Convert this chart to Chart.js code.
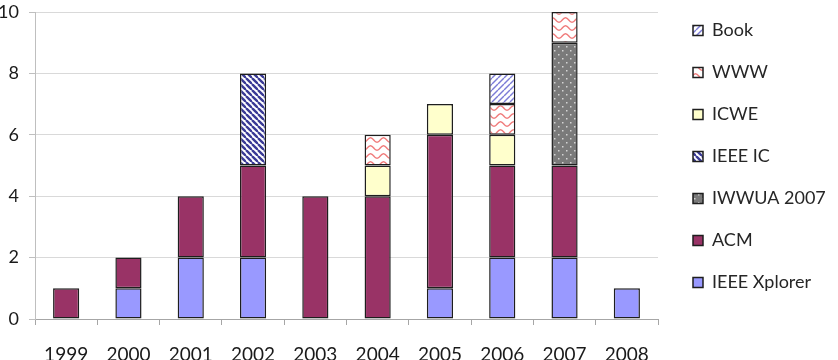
<!DOCTYPE html>
<html><head><meta charset="utf-8">
<script src="https://cdn.jsdelivr.net/npm/chart.js@4/dist/chart.umd.min.js"></script>
<style>html,body{margin:0;padding:0;background:#fff}#wrap{width:838px;height:360px;position:relative}</style>
</head><body><div id="wrap"><canvas id="c" width="838" height="360"></canvas></div>
<script>
// ---- data ----
const years = ['1999','2000','2001','2002','2003','2004','2005','2006','2007','2008'];
const ieeeXplorer = [null,1,2,2,null,null,1,2,2,1];
const acm         = [1,1,2,3,4,4,5,3,3,null];
const iwwua2007   = [null,null,null,null,null,null,null,null,4,null];
const ieeeIC      = [null,null,null,3,null,null,null,null,null,null];
const icwe        = [null,null,null,null,null,1,1,1,null,null];
const www         = [null,null,null,null,null,1,null,1,1,null];
const book        = [null,null,null,null,null,null,null,1,null,null];
const yTicks = [0,2,4,6,8,10];

// ---- patterns ----
function tile(w,h,draw){const c=document.createElement('canvas');c.width=w;c.height=h;const g=c.getContext('2d');draw(g,w,h);return document.getElementById('c').getContext('2d').createPattern(c,'repeat');}
const patIC = tile(6,6,(g,w,h)=>{g.fillStyle='#fff';g.fillRect(0,0,w,h);g.strokeStyle='#3a3a96';g.lineWidth=2.4;
  for(const o of [-6,0,6]){g.beginPath();g.moveTo(o,0);g.lineTo(o+6,6);g.stroke();}});
const patBook = tile(6,6,(g,w,h)=>{g.fillStyle='#fff';g.fillRect(0,0,w,h);g.strokeStyle='#7b7bd6';g.lineWidth=1.4;
  for(const o of [-6,0,6]){g.beginPath();g.moveTo(o,6);g.lineTo(o+6,0);g.stroke();}});
const patWWW = tile(13,8,(g,w,h)=>{g.fillStyle='#fff';g.fillRect(0,0,w,h);g.strokeStyle='#f07a7a';g.lineWidth=1.4;
  g.beginPath();for(let x=0;x<=13;x+=0.5){const y=4+2.2*Math.cos(x/13*2*Math.PI);if(x===0)g.moveTo(x,y);else g.lineTo(x,y);}g.stroke();});
const patIW = tile(8,8,(g,w,h)=>{g.fillStyle='#7a7a7a';g.fillRect(0,0,w,h);g.fillStyle='#d4d4d4';
  g.fillRect(2,2,1.5,1.5);g.fillRect(6,6,1.5,1.5);});

const FONT = 'Lato, "Open Sans", sans-serif';
const LEG_PAD = 24;

const legendFix = {
  id:'legendFix',
  afterInit(chart){
    const lg = chart.legend; const orig = lg.fit;
    lg.fit = function(){ orig.call(this); this.width = 180; };
  },
  beforeDraw(chart){
    const lg = chart.legend;
    const w = lg.width;
    lg.left = 693 - LEG_PAD; lg.right = lg.left + w;
    lg.top = 21.5 - LEG_PAD; lg.bottom = 360;
  }
};

const border = '#1e1e1e';
function ds(label,data,bg){return {label,data,backgroundColor:bg,borderColor:border,borderWidth:1.5,borderSkipped:false};}

new Chart(document.getElementById('c'), {
  type:'bar',
  data:{
    labels: years,
    datasets:[
      ds('IEEE Xplorer', ieeeXplorer, '#9999ff'),
      ds('ACM', acm, '#993366'),
      ds('IWWUA 2007', iwwua2007, patIW),
      ds('IEEE IC', ieeeIC, patIC),
      ds('ICWE', icwe, '#ffffcc'),
      ds('WWW', www, patWWW),
      ds('Book', book, patBook)
    ]
  },
  options:{
    responsive:false, animation:false, devicePixelRatio:1,
    layout:{autoPadding:false, padding:{top:12,left:0,right:0,bottom:0}},
    datasets:{bar:{categoryPercentage:1, barPercentage:0.42}},
    plugins:{
      tooltip:{enabled:false},
      legend:{position:'right', align:'start', reverse:true,
        labels:{boxWidth:10, boxHeight:10, padding:LEG_PAD, color:'#262626', font:{family:FONT, size:18}}}
    },
    scales:{
      x:{stacked:true, offset:true,
        grid:{display:true, drawOnChartArea:false, drawTicks:true, tickLength:6, color:'#a6a6a6', offset:true},
        border:{display:true, color:'#a6a6a6'},
        ticks:{color:'#1a1a1a', font:{family:FONT, size:19}, padding:18, maxRotation:0, autoSkip:false},
        afterFit(s){s.height=41; s.paddingLeft=0; s.paddingRight=0;}
      },
      y:{stacked:true, min:0, max:10,
        afterBuildTicks(s){s.ticks = yTicks.map(v=>({value:v}));},
        grid:{color:'#d9d9d9', tickLength:6, tickColor:'#bfbfbf'},
        border:{display:true, color:'#bfbfbf'},
        ticks:{color:'#1a1a1a', font:{family:FONT, size:18}, padding:10},
        afterFit(s){s.width=35; s.paddingTop=0; s.paddingBottom=0;}
      }
    }
  },
  plugins:[legendFix]
});
</script>
</body></html>
